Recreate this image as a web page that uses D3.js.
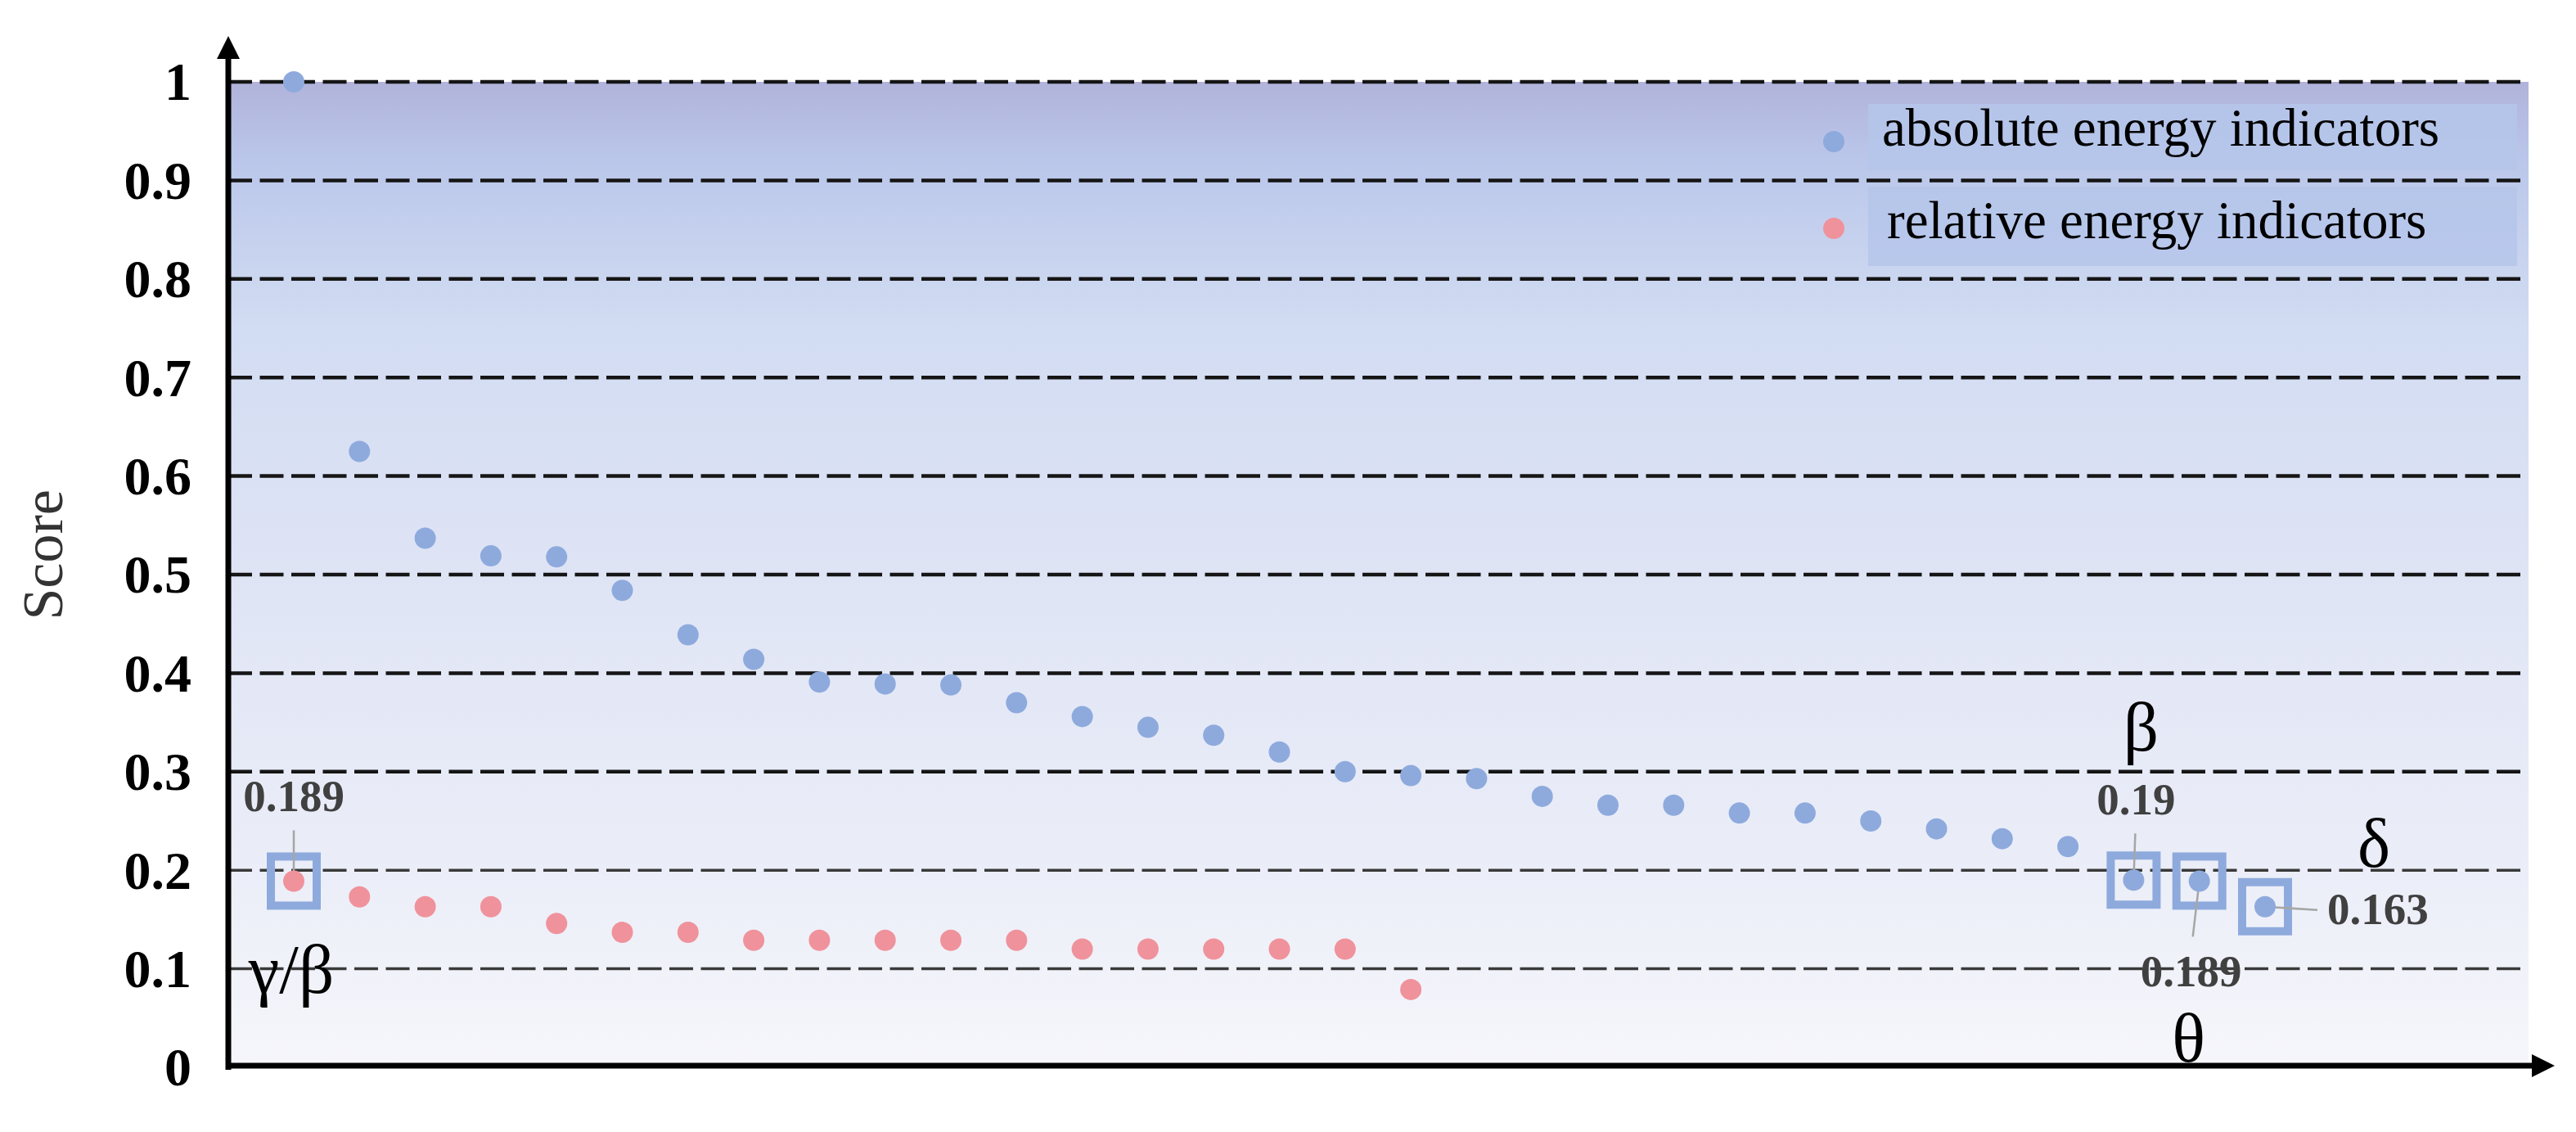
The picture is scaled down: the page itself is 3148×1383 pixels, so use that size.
<!DOCTYPE html>
<head>
  <meta charset="utf-8">
  <style>
    body { margin: 0; background: #fff; }
    text { font-family: "Liberation Serif", "Times New Roman", serif; }
  </style>
  <script src="https://cdn.jsdelivr.net/npm/d3@7"></script>
</head>
<body>
  <svg width="3148" height="1383"></svg>
  <script>

  // scores, ranked high to low
  var absolute = [1, 0.625, 0.537, 0.519, 0.518, 0.484, 0.439, 0.414, 0.391, 0.389,
                  0.388, 0.37, 0.356, 0.345, 0.337, 0.32, 0.3, 0.296, 0.293, 0.275,
                  0.266, 0.266, 0.258, 0.258, 0.25, 0.242, 0.232, 0.224, 0.19, 0.189, 0.163];
  var relative = [0.189, 0.173, 0.163, 0.163, 0.146, 0.137, 0.137, 0.129, 0.129, 0.129,
                  0.129, 0.129, 0.12, 0.12, 0.12, 0.12, 0.12, 0.079];
  var yTicks = [0, 0.1, 0.2, 0.3, 0.4, 0.5, 0.6, 0.7, 0.8, 0.9, 1];
  var seriesNames = ["absolute energy indicators", "relative energy indicators"];
  var seriesColors = ["#8eaadd", "#f0929b"];

  var svg = d3.select("svg"),
      width = +svg.attr("width"),
      height = +svg.attr("height");

  var plotLeft = 279, plotRight = 3090, plotTop = 100, plotBottom = 1304;

  var x = d3.scaleLinear()
      .domain([0, absolute.length - 1])
      .range([359, 359 + 80.3 * (absolute.length - 1)]);

  var y = d3.scaleLinear()
      .domain([0, 1])
      .range([plotBottom, plotTop]);

  var defs = svg.append("defs");
  var grad = defs.append("linearGradient")
      .attr("id", "bg")
      .attr("x1", 0).attr("y1", 0).attr("x2", 0).attr("y2", 1);
  [[0, "#b1b3da"], [0.08, "#bac7ea"], [0.25, "#d2dcf2"], [0.5, "#dfe4f5"], [0.8, "#ebeef8"], [1, "#f6f6fb"]]
    .forEach(function(s) { grad.append("stop").attr("offset", s[0]).attr("stop-color", s[1]); });

  svg.append("rect")
      .attr("x", plotLeft)
      .attr("y", y(1))
      .attr("width", plotRight - plotLeft)
      .attr("height", y(0) - y(1))
      .attr("fill", "url(#bg)");

  // dashed grid
  svg.append("g")
    .selectAll("line")
    .data(yTicks.slice(1))
    .enter().append("line")
      .attr("x1", plotLeft)
      .attr("x2", 3083)
      .attr("y1", function(d) { return y(d); })
      .attr("y2", function(d) { return y(d); })
      .attr("stroke", function(d) { return d < 0.25 ? "#3a3a3a" : "#151515"; })
      .attr("stroke-width", function(d) { return d < 0.25 ? 3.5 : 4.5; })
      .attr("stroke-dasharray", "29,9.5");

  // legend
  var legend = svg.append("g");
  var legendBoxes = [[127, 208], [228, 325]];
  legend.selectAll("rect")
    .data(seriesNames)
    .enter().append("rect")
      .attr("x", 2283)
      .attr("y", function(d, i) { return legendBoxes[i][0]; })
      .attr("width", 793)
      .attr("height", function(d, i) { return legendBoxes[i][1] - legendBoxes[i][0]; })
      .attr("fill", "#b5c6ea")
      .attr("opacity", 0.85);
  legend.selectAll("circle")
    .data(seriesNames)
    .enter().append("circle")
      .attr("cx", 2241)
      .attr("cy", function(d, i) { return i ? 279 : 173; })
      .attr("r", 13)
      .attr("fill", function(d, i) { return seriesColors[i]; });
  legend.selectAll("text")
    .data(seriesNames)
    .enter().append("text")
      .attr("x", function(d, i) { return i ? 2306 : 2300; })
      .attr("y", function(d, i) { return i ? 291 : 178; })
      .attr("font-size", 65)
      .attr("fill", "#000")
      .text(function(d) { return d; });

  // highlight boxes
  var highlights = [
    {v: relative[0], i: 0},
    {v: absolute[28], i: 28},
    {v: absolute[29], i: 29},
    {v: absolute[30], i: 30}
  ];
  svg.append("g")
    .selectAll("rect")
    .data(highlights)
    .enter().append("rect")
      .attr("x", function(d) { return x(d.i) - 28; })
      .attr("y", function(d) { return y(d.v) - 30; })
      .attr("width", 56)
      .attr("height", 60)
      .attr("fill", "none")
      .attr("stroke", "#8eaadd")
      .attr("stroke-width", 10);

  // leader lines
  var leaders = [
    {i: 0, v: relative[0], x2: 0, y2: -62},
    {i: 28, v: absolute[28], x2: 2, y2: -57},
    {i: 29, v: absolute[29], x2: -8, y2: 68},
    {i: 30, v: absolute[30], x2: 64, y2: 4}
  ];
  svg.append("g")
    .selectAll("line")
    .data(leaders)
    .enter().append("line")
      .attr("x1", function(d) { return x(d.i); })
      .attr("y1", function(d) { return y(d.v); })
      .attr("x2", function(d) { return x(d.i) + d.x2; })
      .attr("y2", function(d) { return y(d.v) + d.y2; })
      .attr("stroke", "#a6a6a6")
      .attr("stroke-width", 2.5);

  // points
  svg.append("g")
    .selectAll("circle")
    .data(absolute)
    .enter().append("circle")
      .attr("cx", function(d, i) { return x(i); })
      .attr("cy", function(d) { return y(d); })
      .attr("r", 13)
      .attr("fill", seriesColors[0]);

  svg.append("g")
    .selectAll("circle")
    .data(relative)
    .enter().append("circle")
      .attr("cx", function(d, i) { return x(i); })
      .attr("cy", function(d) { return y(d); })
      .attr("r", 13)
      .attr("fill", seriesColors[1]);

  // value labels
  var valueLabels = [
    {i: 0, v: relative[0], dx: 0, dy: -85, anchor: "middle"},
    {i: 28, v: absolute[28], dx: 3, dy: -80, anchor: "middle"},
    {i: 29, v: absolute[29], dx: -10, dy: 129, anchor: "middle"},
    {i: 30, v: absolute[30], dx: 76, dy: 21, anchor: "start"}
  ];
  svg.append("g")
    .selectAll("text")
    .data(valueLabels)
    .enter().append("text")
      .attr("x", function(d) { return x(d.i) + d.dx; })
      .attr("y", function(d) { return y(d.v) + d.dy; })
      .attr("text-anchor", function(d) { return d.anchor; })
      .attr("font-size", 55)
      .attr("font-weight", "bold")
      .attr("fill", "#404040")
      .text(function(d) { return String(d.v); });

  // band names
  var bands = [
    {t: "\u03b3/\u03b2", i: 0, v: relative[0], dx: -3, dy: 137},
    {t: "\u03b2", i: 28, v: absolute[28], dx: 9, dy: -158},
    {t: "\u03b8", i: 29, v: absolute[29], dx: -13, dy: 221},
    {t: "\u03b4", i: 30, v: absolute[30], dx: 133, dy: -49}
  ];
  svg.append("g")
    .selectAll("text")
    .data(bands)
    .enter().append("text")
      .attr("x", function(d) { return x(d.i) + d.dx; })
      .attr("y", function(d) { return y(d.v) + d.dy; })
      .attr("text-anchor", "middle")
      .attr("font-size", 85)
      .attr("fill", "#000")
      .text(function(d) { return d.t; });

  // y tick labels
  svg.append("g")
    .selectAll("text")
    .data(yTicks)
    .enter().append("text")
      .attr("x", 234)
      .attr("y", function(d) { return y(d); })
      .attr("dy", "0.34em")
      .attr("text-anchor", "end")
      .attr("font-size", 66)
      .attr("font-weight", "bold")
      .attr("fill", "#000")
      .text(function(d) { return d3.format("")(d); });

  svg.append("text")
      .attr("transform", "translate(76," + y(0.52) + ") rotate(-90)")
      .attr("text-anchor", "middle")
      .attr("font-size", 70)
      .attr("fill", "#333")
      .text("Score");

  // axes with arrow heads
  defs.append("marker")
      .attr("id", "arrow")
      .attr("viewBox", "0 0 10 10")
      .attr("refX", 0).attr("refY", 5)
      .attr("markerWidth", 4).attr("markerHeight", 4)
      .attr("markerUnits", "strokeWidth")
      .attr("orient", "auto")
    .append("path")
      .attr("d", "M0,0L10,5L0,10Z")
      .attr("fill", "#000");

  svg.append("line")
      .attr("x1", plotLeft).attr("y1", plotBottom + 3)
      .attr("x2", plotLeft).attr("y2", 72)
      .attr("stroke", "#000")
      .attr("stroke-width", 7)
      .attr("marker-end", "url(#arrow)");

  svg.append("line")
      .attr("x1", plotLeft - 3).attr("y1", 1302)
      .attr("x2", 3094).attr("y2", 1302)
      .attr("stroke", "#000")
      .attr("stroke-width", 7)
      .attr("marker-end", "url(#arrow)");

  </script>
</body>
